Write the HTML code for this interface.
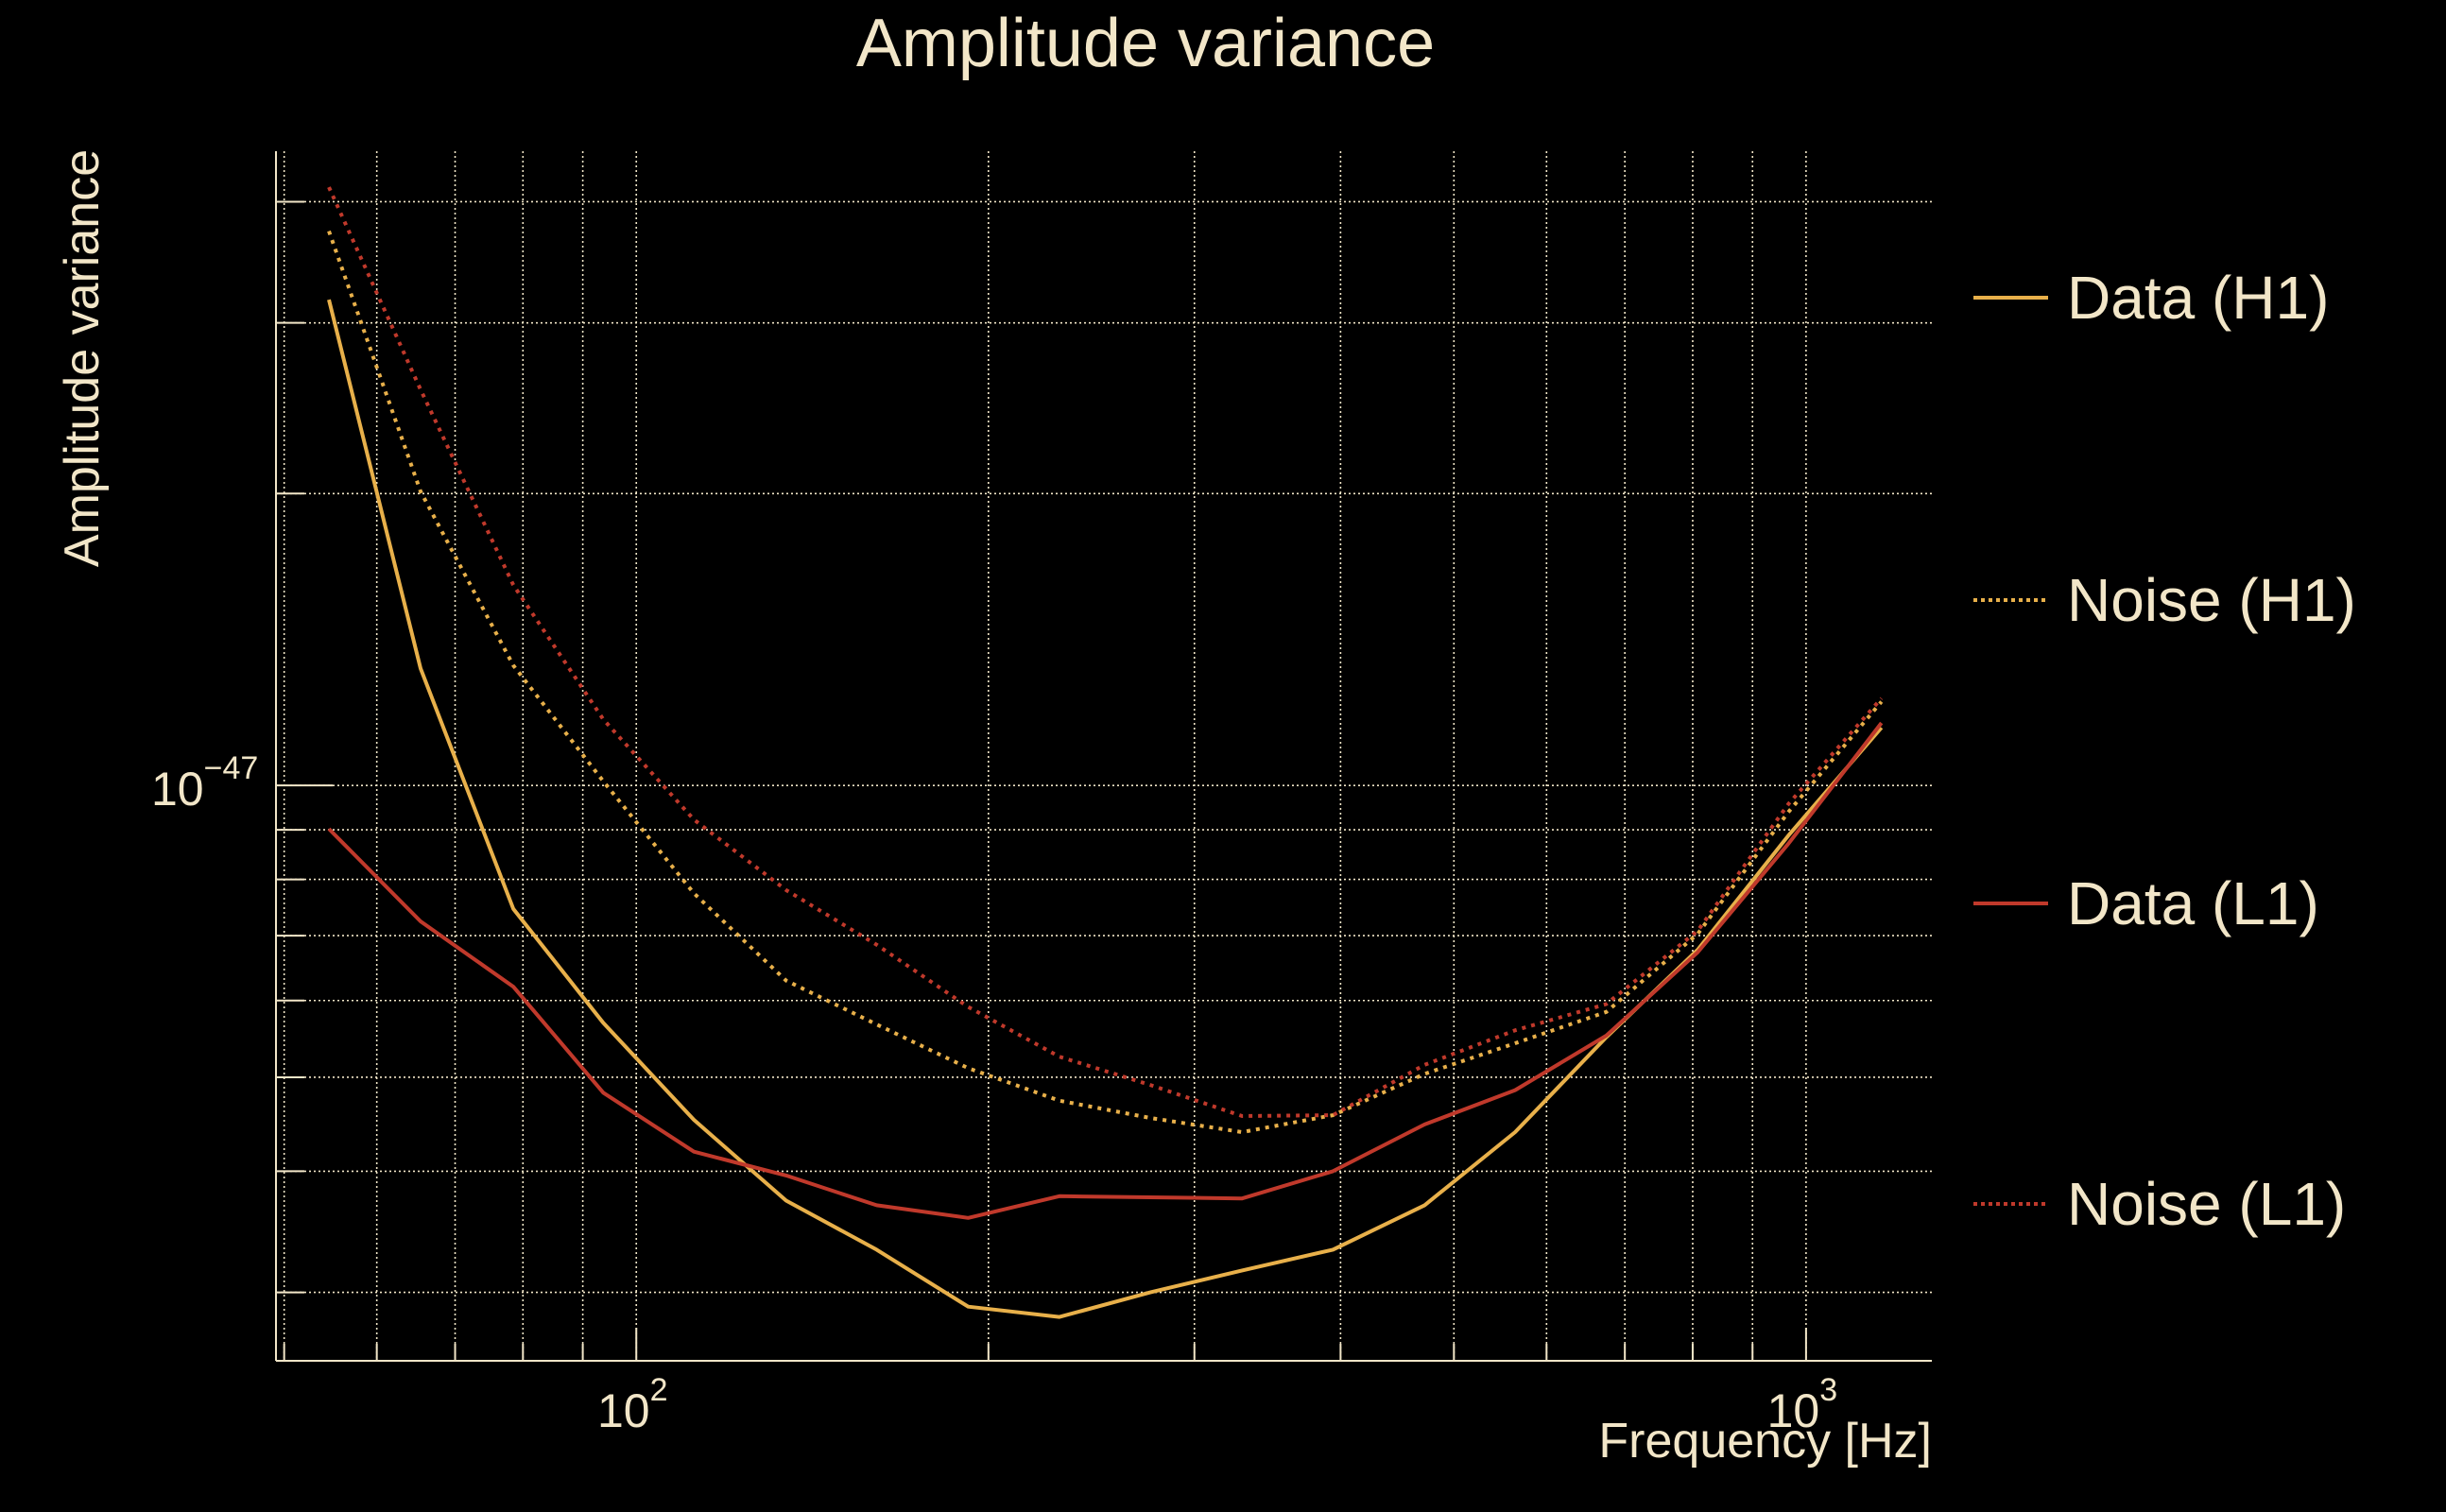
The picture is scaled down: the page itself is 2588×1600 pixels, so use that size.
<!DOCTYPE html>
<html><head><meta charset="utf-8"><style>
html,body{margin:0;padding:0;background:#000;}
svg{display:block;font-family:"Liberation Sans",sans-serif;}
</style></head><body>
<svg id="chart" width="2588" height="1600" viewBox="0 0 2588 1600">
<rect width="2588" height="1600" fill="#000"/>
<text x="1212" y="70" font-size="72" fill="#f2e6c8" text-anchor="middle">Amplitude variance</text>
<g id="grid"></g>
<g id="series"></g>
<g id="axes"></g>
<text x="2044" y="1542" font-size="52" fill="#f2e6c8" text-anchor="end">Frequency [Hz]</text>
<text transform="translate(104,379) rotate(-90)" font-size="52" fill="#f2e6c8" text-anchor="middle">Amplitude variance</text>
<g id="legend"></g>
</svg>
<script>
const freqs = [54.6, 65.4, 78.5, 93.7, 112, 134.3, 160.5, 192.2, 230, 275, 329.5, 394, 472, 564, 675, 808, 966, 1160];
const dataH1 = [3.17e-47, 1.32e-47, 7.46e-48, 5.69e-48, 4.52e-48, 3.73e-48, 3.32e-48, 2.90e-48, 2.83e-48, 3.0e-48, 3.16e-48, 3.32e-48, 3.69e-48, 4.39e-48, 5.5e-48, 6.77e-48, 8.88e-48, 1.147e-47];
const noiseH1 = [3.73e-47, 2.01e-47, 1.33e-47, 1.01e-47, 7.74e-48, 6.29e-48, 5.67e-48, 5.11e-48, 4.73e-48, 4.54e-48, 4.39e-48, 4.57e-48, 5.04e-48, 5.42e-48, 5.84e-48, 7.03e-48, 9.39e-48, 1.22e-47];
const dataL1 = [9.02e-48, 7.24e-48, 6.20e-48, 4.82e-48, 4.19e-48, 3.96e-48, 3.69e-48, 3.58e-48, 3.77e-48, 3.76e-48, 3.75e-48, 4.0e-48, 4.47e-48, 4.85e-48, 5.52e-48, 6.73e-48, 8.71e-48, 1.16e-47];
const noiseL1 = [4.14e-47, 2.56e-47, 1.61e-47, 1.17e-47, 9.22e-48, 7.80e-48, 6.85e-48, 5.91e-48, 5.25e-48, 4.91e-48, 4.56e-48, 4.57e-48, 5.15e-48, 5.59e-48, 5.95e-48, 7.08e-48, 9.57e-48, 1.23e-47];
const xTicks = [50,60,70,80,90,100,200,300,400,500,600,700,800,900,1000];
const xMajor = [100, 1000];
const xMajorLabels = ["2", "3"];
const yTicks = [3e-48,4e-48,5e-48,6e-48,7e-48,8e-48,9e-48,1e-47,2e-47,3e-47,4e-47];
const seriesNames = ["Data (H1)", "Noise (H1)", "Data (L1)", "Noise (L1)"];

const L=292, R=2044, T=160, B=1440;
const X_MIN=Math.log10(49.2), X_MAX=Math.log10(1281);
const Y_MIN=Math.log10(2.55e-48), Y_MAX=Math.log10(4.51e-47);
const xs = f => L + (Math.log10(f)-X_MIN)/(X_MAX-X_MIN)*(R-L);
const ys = v => B - (Math.log10(v)-Y_MIN)/(Y_MAX-Y_MIN)*(B-T);
const NS='http://www.w3.org/2000/svg';
const cream='#f2e6c8';
function mk(tag, attrs, parent){const e=document.createElementNS(NS,tag);for(const k in attrs)e.setAttribute(k,attrs[k]);parent.appendChild(e);return e;}
const grid=document.getElementById('grid'), axes=document.getElementById('axes'), series=document.getElementById('series'), legend=document.getElementById('legend');

xTicks.forEach(f=>{
  const x=xs(f), major=xMajor.includes(f);
  const g=mk('line',{x1:x,x2:x,y1:T,y2:B,stroke:cream,'stroke-width':1.6,'stroke-dasharray':'2 3'},grid);
  
  
  const t=mk('line',{x1:x,x2:x,y1:B,y2:B-(major?35:18),stroke:cream,'stroke-width':2},axes);
  
  
});
yTicks.forEach(v=>{
  const y=ys(v), major=(v===1e-47);
  const g=mk('line',{x1:L,x2:R,y1:y,y2:y,stroke:cream,'stroke-width':1.6,'stroke-dasharray':'2 3'},grid);
  
  
  const t=mk('line',{x1:L,x2:L+(major?60:30),y1:y,y2:y,stroke:cream,'stroke-width':2},axes);
  
  
});
const ax1=mk('line',{x1:L,x2:L,y1:T,y2:B,stroke:cream,'stroke-width':2},axes);


const ax2=mk('line',{x1:L,x2:R,y1:B,y2:B,stroke:cream,'stroke-width':2},axes);



xMajor.forEach((f,i)=>{
  const t=mk('text',{x:xs(f)-4,y:1510,'font-size':50,fill:cream,'text-anchor':'middle'},axes);
  
  
  t.textContent='10';
  const s=mk('tspan',{'font-size':34,dy:-28},t);
  s.textContent=xMajorLabels[i];
});
const yl=mk('text',{x:160,y:852,'font-size':50,fill:cream},axes);


yl.textContent='10';
const ys2=mk('tspan',{'font-size':34,dy:-28},yl); ys2.textContent='\u221247';

const defs=[
  {vals:dataH1,color:'#e8b04a',dash:null,name:'series-data-h1'},
  {vals:noiseH1,color:'#e8b04a',dash:'4 6',name:'series-noise-h1'},
  {vals:dataL1,color:'#c0392b',dash:null,name:'series-data-l1'},
  {vals:noiseL1,color:'#c0392b',dash:'4 6',name:'series-noise-l1'}
];
const legY=[315,635,956,1274];
defs.forEach((d,i)=>{
  const pts=freqs.map((f,j)=>xs(f).toFixed(1)+','+ys(d.vals[j]).toFixed(1)).join(' ');
  const a={points:pts,fill:'none',stroke:d.color,'stroke-width':4,'stroke-linejoin':'round'};
  if(d.dash)a['stroke-dasharray']=d.dash;
  const p=mk('polyline',a,series);
  
  
  const la={x1:2088,x2:2167,y1:legY[i],y2:legY[i],stroke:d.color,'stroke-width':4};
  if(d.dash)la['stroke-dasharray']='4 4';
  const ln=mk('line',la,legend);
  
  
  const tx=mk('text',{x:2187,y:legY[i]+22,'font-size':64,fill:cream},legend);
  
  
  tx.textContent=seriesNames[i];
});
</script>
</body></html>
